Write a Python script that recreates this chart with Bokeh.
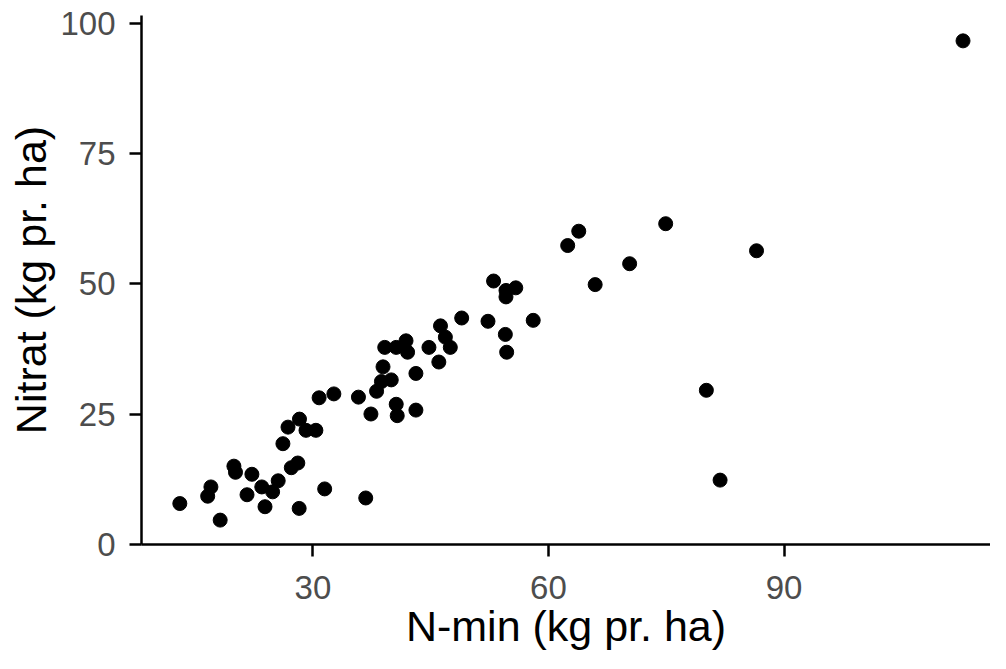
from bokeh.plotting import figure
from bokeh.models import Range1d, FixedTicker, ColumnDataSource
from bokeh.embed import file_html
from bokeh.resources import INLINE

# N-min (kg pr. ha)
nmin = [13.05, 18.19, 16.60, 17.01, 19.94, 20.14, 22.23, 21.61, 23.90, 23.49,
        24.87, 25.58, 27.25, 28.08, 28.25, 31.50, 36.73, 26.18, 26.83, 28.29,
        29.12, 30.38, 30.79, 32.67, 35.80, 37.39, 38.11, 38.73, 38.93, 39.98,
        40.61, 40.74, 43.12, 43.12, 39.15, 40.61, 41.86, 42.06, 44.78, 46.04,
        46.25, 46.87, 47.50, 48.95, 52.30, 54.51, 54.68, 58.06, 53.01, 54.59,
        55.84, 54.59, 62.45, 63.86, 65.95, 70.34, 74.93, 80.11, 81.86, 86.50,
        112.80]
# Nitrat (kg pr. ha)
nitrat = [7.81, 4.63, 9.22, 11.00, 14.99, 13.81, 13.43, 9.50, 7.20, 11.00,
          10.06, 12.18, 14.69, 15.59, 6.88, 10.62, 8.88, 19.30, 22.48, 24.02,
          21.87, 21.87, 28.11, 28.86, 28.24, 25.00, 29.36, 31.23, 34.05, 31.55,
          26.87, 24.68, 25.75, 32.79, 37.79, 37.79, 39.05, 36.86, 37.79, 34.98,
          41.92, 39.75, 37.79, 43.43, 42.80, 40.28, 36.86, 42.98, 50.53, 48.72,
          49.22, 47.48, 57.34, 60.09, 49.84, 53.85, 61.53, 29.55, 12.31, 56.34,
          96.63]

x_ticks = [30, 60, 90]
y_ticks = [0, 25, 50, 75, 100]
x_title = "N-min (kg pr. ha)"
y_title = "Nitrat (kg pr. ha)"

src = ColumnDataSource(dict(x=nmin, y=nitrat))

p = figure(width=990, height=653, output_backend="svg", toolbar_location=None,
           x_range=Range1d(8.17, 116.3), y_range=Range1d(-0.05, 101.5),
           min_border_left=141, min_border_top=15, min_border_right=0,
           min_border_bottom=109)
p.outline_line_color = None
p.background_fill_color = "white"
p.border_fill_color = "white"
p.xgrid.visible = False
p.ygrid.visible = False

p.scatter("x", "y", source=src, size=14, color="black", line_color="black")

for ax, ticks, title, lstand, tstand in ((p.xaxis[0], x_ticks, x_title, 19, 0),
                                         (p.yaxis[0], y_ticks, y_title, 14, 2)):
    ax.ticker = FixedTicker(ticks=ticks)
    ax.axis_label = title
    ax.axis_label_text_font = "Liberation Sans"
    ax.axis_label_text_font_style = "normal"
    ax.axis_label_text_font_size = "43px"
    ax.axis_label_text_color = "black"
    ax.major_label_text_font = "Liberation Sans"
    ax.major_label_text_font_size = "33px"
    ax.major_label_text_color = "#4D4D4D"
    ax.axis_line_color = "black"
    ax.axis_line_width = 2.5
    ax.major_tick_line_color = "black"
    ax.major_tick_line_width = 2.5
    ax.major_tick_out = 12
    ax.major_tick_in = 0
    ax.minor_tick_line_color = None
    ax.major_label_standoff = lstand
    ax.axis_label_standoff = tstand

open("out.html", "w").write(file_html(p, INLINE))
